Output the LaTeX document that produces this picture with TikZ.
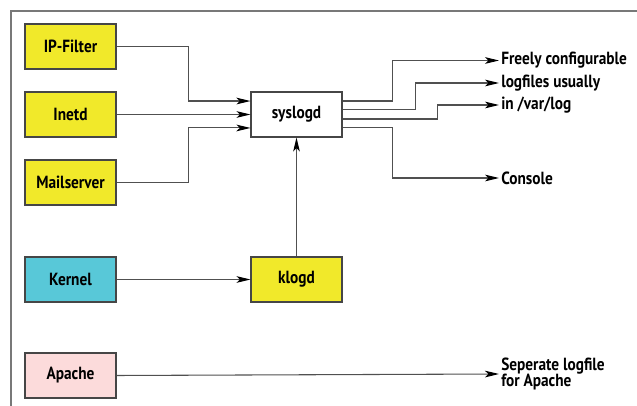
\documentclass[tikz,border=0pt]{standalone}
\usepackage{fontspec}
\setmainfont{PT Sans}[FakeStretch=0.87]
\usetikzlibrary{arrows.meta}

\definecolor{boxyellow}{RGB}{241,233,42}
\definecolor{boxcyan}{RGB}{88,200,216}
\definecolor{boxpink}{RGB}{252,219,219}
\definecolor{boxline}{RGB}{70,70,70}
\definecolor{wireline}{RGB}{80,80,80}
\definecolor{frameline}{RGB}{120,120,120}

\begin{document}
\begin{tikzpicture}[x=0.75pt, y=-0.75pt,
    font=\fontsize{13.2}{12.5}\selectfont\bfseries,
    prog/.style={draw=boxline, line width=0.8pt, minimum width=68.25pt, minimum height=33.75pt, inner sep=0pt},
    conn/.style={draw=wireline, line width=0.8pt, -{Stealth[length=10.5pt, width=5pt, inset=2.5pt, color=black]}},
    target/.style={anchor=west, inner sep=1.5pt, align=left}]
    % 1. RAHMEN (oben und links)
    \useasboundingbox (0,0) rectangle (637,406);
    \draw[frameline, line width=1pt] (11,406) -- (11,11) -- (637,11);

    % 2. PROGRAMME LINKS
    \node[prog, fill=boxyellow] (ipfilter) at (70.5,46.5) {IP-Filter};
    \node[prog, fill=boxyellow] (inetd) at (70.5,114.5) {Inetd};
    \node[prog, fill=boxyellow] (mailserver) at (70.5,182.5) {Mailserver};
    \node[prog, fill=boxcyan] (kernel) at (70.5,279.5) {Kernel};
    \node[prog, fill=boxpink] (apache) at (70.5,375.5) {Apache};

    % 3. DAEMONS
    \node[prog, fill=white] (syslogd) at (296.5,114.5) {syslogd};
    \node[prog, fill=boxyellow] (klogd) at (296.5,279.5) {klogd};

    % 4. ZIELE RECHTS
    \node[target] (freely) at (499,60.5) {Freely configurable};
    \node[target] (logfiles) at (499,83) {logfiles usually};
    \node[target] (varlog) at (499,105) {in /var/log};
    \node[target] (console) at (499,178) {Console};
    \node[target] (apachelog) at (499,374) {Seperate logfile\\for Apache};

    % 5. EINGAENGE VON syslogd
    \draw[conn] (ipfilter.east) -- ++(72,0) |- ([yshift=10.1pt]syslogd.west);
    \draw[conn] (inetd.east) -- (syslogd.west);
    \draw[conn] (mailserver.east) -- ++(72,0) |- ([yshift=-10.1pt]syslogd.west);

    % 6. KERNEL -> klogd -> syslogd
    \draw[conn] (kernel.east) -- (klogd.west);
    \draw[conn] (klogd.north) -- (syslogd.south);

    % 7. AUSGAENGE VON syslogd
    \draw[conn] ([yshift=10.1pt]syslogd.east) -- ++(50,0) |- (freely.west);
    \draw[conn] ([yshift=3.4pt]syslogd.east) -- ++(73,0) |- (logfiles.west);
    \draw[conn] ([yshift=-3.4pt]syslogd.east) -- ++(95,0) |- (varlog.west);
    \draw[conn] ([yshift=-10.1pt]syslogd.east) -- ++(50,0) |- (console.west);

    % 8. APACHE SCHREIBT SELBST
    \draw[conn] (apache.east) -- (apachelog.west);
\end{tikzpicture}
\end{document}
